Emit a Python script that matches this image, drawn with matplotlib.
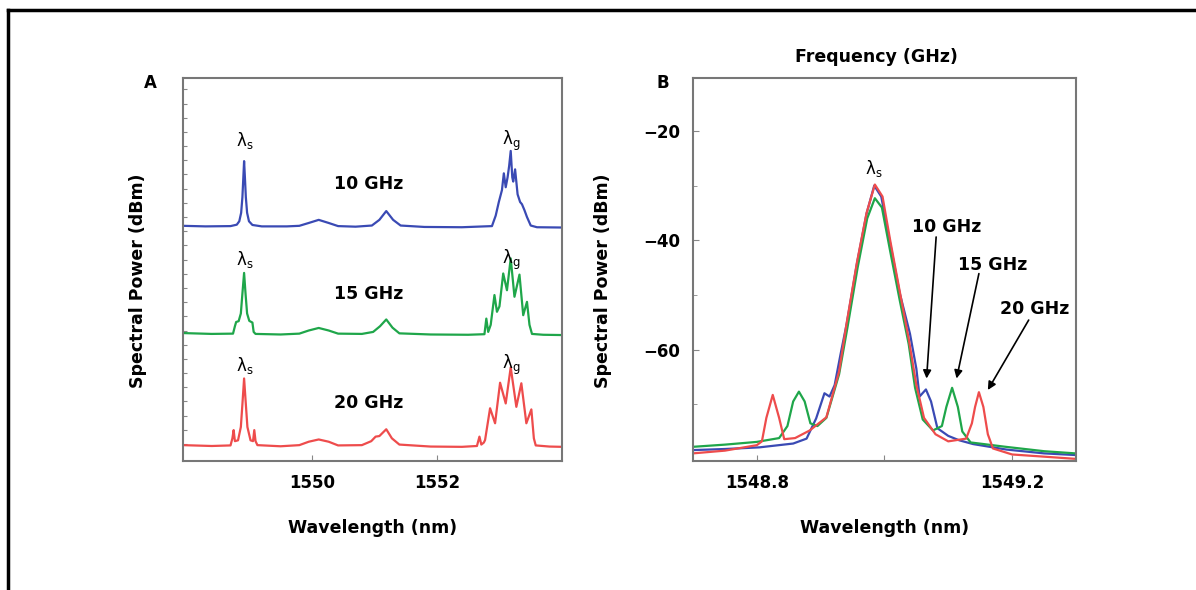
import numpy as np
import matplotlib.pyplot as plt
from matplotlib.lines import Line2D

plt.rcParams['font.family'] = ['DejaVu Sans']
plt.rcParams['font.weight'] = 'bold'
plt.rcParams['axes.labelweight'] = 'bold'

blue = '#3a4ab4'
green = '#1fa64a'
red = '#ee4c4c'

# Panel A: (wavelength nm, relative level)
a_blue = [(1547.94, 82.9), (1548.30, 82.7), (1548.70, 82.8), (1548.80, 83.3), (1548.84, 84.5),
          (1548.87, 87.5), (1548.89, 93.0), (1548.905, 100.0), (1548.917, 105.7), (1548.93, 100.0),
          (1548.945, 93.0), (1548.965, 87.5), (1548.995, 84.5), (1549.05, 83.2), (1549.20, 82.7),
          (1549.60, 82.7), (1549.80, 82.9), (1549.95, 83.9), (1550.11, 85.0), (1550.27, 83.9),
          (1550.42, 82.8), (1550.70, 82.6), (1550.96, 83.0), (1551.08, 85.0), (1551.19, 88.1),
          (1551.30, 85.0), (1551.42, 83.0), (1551.80, 82.5), (1552.40, 82.4), (1552.88, 82.8),
          (1552.94, 86.5), (1552.99, 91.3), (1553.04, 95.5), (1553.07, 101.4), (1553.10, 96.5),
          (1553.13, 100.0), (1553.155, 104.0), (1553.18, 109.3), (1553.205, 100.0), (1553.22, 98.5),
          (1553.25, 102.8), (1553.29, 94.0), (1553.33, 91.3), (1553.36, 90.5), (1553.40, 88.4),
          (1553.44, 86.0), (1553.50, 83.0), (1553.60, 82.4), (1554.0, 82.3)]

a_green = [(1547.94, 45.1), (1548.40, 44.8), (1548.74, 44.9), (1548.77, 47.5), (1548.79, 49.0),
           (1548.83, 49.3), (1548.865, 52.0), (1548.89, 59.0), (1548.917, 66.3), (1548.94, 59.0),
           (1548.965, 52.0), (1549.00, 49.4), (1549.05, 48.8), (1549.07, 45.5), (1549.10, 44.8),
           (1549.50, 44.6), (1549.80, 44.9), (1549.95, 46.0), (1550.11, 46.9), (1550.27, 46.0),
           (1550.42, 44.9), (1550.80, 44.8), (1550.98, 45.5), (1551.09, 47.5), (1551.19, 49.9),
           (1551.29, 47.0), (1551.40, 45.0), (1551.90, 44.6), (1552.50, 44.5), (1552.76, 44.7),
           (1552.79, 50.2), (1552.82, 45.5), (1552.86, 48.0), (1552.92, 58.5), (1552.96, 52.6),
           (1553.00, 54.5), (1553.06, 66.1), (1553.12, 60.2), (1553.18, 71.4), (1553.24, 57.9),
           (1553.32, 65.7), (1553.38, 51.4), (1553.44, 56.1), (1553.48, 48.0), (1553.52, 44.8),
           (1553.70, 44.5), (1554.0, 44.4)]

a_red = [(1547.94, 5.6), (1548.40, 5.3), (1548.70, 5.5), (1548.73, 8.0), (1548.75, 10.9),
         (1548.77, 7.0), (1548.82, 7.3), (1548.865, 12.0), (1548.89, 20.0), (1548.917, 29.1),
         (1548.945, 20.0), (1548.97, 12.0), (1549.02, 7.3), (1549.06, 7.0), (1549.08, 10.9),
         (1549.10, 7.0), (1549.13, 5.6), (1549.50, 5.2), (1549.80, 5.6), (1549.95, 6.8),
         (1550.11, 7.6), (1550.27, 6.8), (1550.42, 5.5), (1550.80, 5.6), (1550.95, 7.0),
         (1551.02, 8.6), (1551.08, 8.8), (1551.19, 11.2), (1551.28, 8.0), (1551.40, 5.8),
         (1551.90, 5.1), (1552.40, 5.0), (1552.64, 5.3), (1552.68, 8.6), (1552.71, 5.8),
         (1552.75, 6.5), (1552.77, 7.4), (1552.85, 18.6), (1552.93, 13.3), (1553.01, 27.6),
         (1553.10, 20.3), (1553.18, 33.0), (1553.27, 19.1), (1553.35, 27.4), (1553.43, 13.3),
         (1553.51, 18.2), (1553.55, 8.0), (1553.58, 5.5), (1553.80, 5.1), (1554.0, 5.0)]

a_labels = ['10 GHz', '15 GHz', '20 GHz']
a_label_y = [97.8, 59.0, 20.3]
a_lam_y = [113.0, 71.0, 33.8]

# Panel B: (wavelength nm, dBm)
b_blue = [(1548.700, -78.4), (1548.75, -78.2), (1548.804, -77.9), (1548.857, -77.2), (1548.878, -76.3),
          (1548.893, -72.6), (1548.906, -68.0), (1548.914, -68.6), (1548.922, -66.5), (1548.931, -61.0),
          (1548.941, -55.2), (1548.957, -44.2), (1548.972, -35.1), (1548.984, -30.0), (1548.995, -32.0),
          (1549.008, -40.0), (1549.024, -49.7), (1549.040, -57.1), (1549.050, -63.5), (1549.055, -68.6),
          (1549.065, -67.3), (1549.073, -69.5), (1549.083, -74.4), (1549.100, -75.8), (1549.117, -76.6),
          (1549.139, -77.3), (1549.191, -78.3), (1549.250, -79.0), (1549.299, -79.3)]

b_green = [(1548.700, -77.8), (1548.75, -77.4), (1548.80, -76.9), (1548.835, -76.2), (1548.848, -74.0),
           (1548.857, -69.5), (1548.866, -67.7), (1548.875, -69.5), (1548.884, -73.5), (1548.895, -74.0),
           (1548.909, -72.5), (1548.929, -64.5), (1548.942, -56.0), (1548.958, -45.0), (1548.973, -36.0),
           (1548.985, -32.3), (1548.996, -34.0), (1549.009, -42.0), (1549.024, -51.0), (1549.038, -59.0),
           (1549.048, -67.0), (1549.060, -72.8), (1549.076, -74.8), (1549.090, -74.0), (1549.097, -70.5),
           (1549.106, -67.0), (1549.115, -70.5), (1549.122, -75.0), (1549.135, -77.0), (1549.190, -77.8),
           (1549.250, -78.6), (1549.299, -79.0)]

b_red = [(1548.700, -79.0), (1548.75, -78.5), (1548.80, -77.5), (1548.808, -76.8), (1548.815, -72.5),
         (1548.825, -68.3), (1548.835, -72.5), (1548.843, -76.4), (1548.860, -76.2), (1548.883, -74.8),
         (1548.909, -72.4), (1548.929, -64.0), (1548.941, -55.0), (1548.957, -44.0), (1548.972, -35.0),
         (1548.985, -29.8), (1548.997, -32.0), (1549.009, -40.0), (1549.025, -50.0), (1549.038, -58.0),
         (1549.050, -66.5), (1549.062, -72.5), (1549.080, -75.5), (1549.100, -76.8), (1549.128, -76.3),
         (1549.137, -73.5), (1549.142, -70.5), (1549.148, -67.8), (1549.155, -70.5), (1549.162, -75.5),
         (1549.170, -78.1), (1549.200, -79.2), (1549.250, -79.6), (1549.299, -80.0)]

# arrow labels in B: text position, arrow start, arrow tip
b_notes = [('10 GHz', (1549.097, -37.5), (1549.081, -39.4), (1549.066, -65.3)),
           ('15 GHz', (1549.170, -44.5), (1549.148, -46.1), (1549.113, -65.3)),
           ('20 GHz', (1549.235, -52.5), (1549.226, -54.6), (1549.162, -67.4))]

fig = plt.figure(figsize=(11.96, 5.90), dpi=100)
axA = fig.add_axes([0.153, 0.2186, 0.3169, 0.6492])
axB = fig.add_axes([0.5794, 0.2186, 0.3202, 0.6492])

for ax in (axA, axB):
    for s in ax.spines.values():
        s.set_color('#777777')
        s.set_linewidth(1.5)
    ax.tick_params(direction='in', color='#888888', labelsize=12, pad=9)

# ---- panel A
for data, c in ((a_blue, blue), (a_green, green), (a_red, red)):
    wl, lv = zip(*data)
    axA.plot(wl, lv, color=c, lw=1.6)

for lab, y in zip(a_labels, a_label_y):
    axA.text(1550.906, y, lab, ha='center', va='center', fontsize=12.5)
for y in a_lam_y:
    axA.text(1548.93, y, r'$\mathregular{\lambda_s}$', ha='center', va='center',
             fontsize=12, fontweight='normal')
    axA.text(1553.19, y, r'$\mathregular{\lambda_g}$', ha='center', va='center',
             fontsize=12, fontweight='normal')

axA.set_xlim(1547.94, 1554.0)
axA.set_ylim(0, 135)
axA.set_xticks([1550, 1552])
axA.set_yticks(np.arange(6, 135, 5))
axA.set_yticklabels([])
axA.tick_params(axis='y', length=3)
axA.tick_params(axis='x', length=4)
axA.set_xlabel('Wavelength (nm)', fontsize=12.5, labelpad=20)
axA.set_ylabel('Spectral Power (dBm)', fontsize=12.5)
axA.yaxis.set_label_coords(-0.094, 0.47)
axA.text(-0.087, 0.987, 'A', transform=axA.transAxes, ha='center', va='center', fontsize=12)

# ---- panel B
for data, c in ((b_blue, blue), (b_green, green), (b_red, red)):
    wl, lv = zip(*data)
    axB.plot(wl, lv, color=c, lw=1.6)

axB.text(1548.984, -26.8, r'$\mathregular{\lambda_s}$', ha='center', va='center',
         fontsize=12, fontweight='normal')
for lab, txy, start, tip in b_notes:
    axB.text(txy[0], txy[1], lab, ha='center', va='center', fontsize=12.5)
    axB.annotate('', xy=tip, xytext=start,
                 arrowprops=dict(arrowstyle='-|>', color='black', lw=1.2,
                                 mutation_scale=12, shrinkA=0, shrinkB=0))

axB.set_xlim(1548.7, 1549.3)
axB.set_ylim(-80.4, -10.3)
axB.set_xticks([1548.8, 1549.0, 1549.2])
axB.set_xticklabels(['1548.8', '', '1549.2'])
axB.set_yticks([-20, -40, -60])
axB.set_yticks([-30, -50, -70], minor=True)
axB.tick_params(axis='both', length=4)
axB.tick_params(which='minor', direction='in', length=3, color='#888888')
axB.set_xlabel('Wavelength (nm)', fontsize=12.5, labelpad=20)
axB.set_ylabel('Spectral Power (dBm)', fontsize=12.5)
axB.yaxis.set_label_coords(-0.212, 0.47)
axB.text(0.48, 1.056, 'Frequency (GHz)', transform=axB.transAxes, ha='center', va='center', fontsize=12.5)
axB.text(-0.078, 0.987, 'B', transform=axB.transAxes, ha='center', va='center', fontsize=12)

# outer frame (left and top edges)
fig.add_artist(Line2D([8 / 1196, 8 / 1196], [0, 580 / 590], color='black', lw=2.5, transform=fig.transFigure))
fig.add_artist(Line2D([8 / 1196, 1], [580 / 590, 580 / 590], color='black', lw=2.5, transform=fig.transFigure))

fig.savefig('out.png', dpi=100)
